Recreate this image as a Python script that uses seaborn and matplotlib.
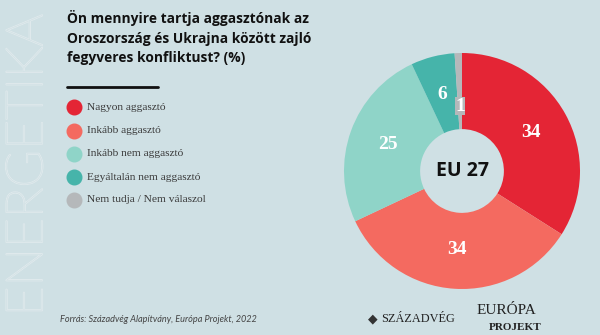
import matplotlib
matplotlib.use("Agg")
import matplotlib.pyplot as plt
import matplotlib.patheffects as pe
import seaborn as sns

# Survey answers (%), EU 27
categories = ["Nagyon aggasztó", "Inkább aggasztó", "Inkább nem aggasztó",
              "Egyáltalán nem aggasztó", "Nem tudja / Nem válaszol"]
values = [34, 34, 25, 6, 1]
colors = ["#e42535", "#f46a60", "#8fd4c8", "#46b4aa", "#b5b8ba"]

title = "Ön mennyire tartja aggasztónak az\nOroszország és Ukrajna között zajló\nfegyveres konfliktust? (%)"
center_label = "EU 27"
source = "Forrás: Századvég Alapítvány, Európa Projekt, 2022"

BG = "#cfe0e4"
sns.set_theme(style="white", rc={"figure.facecolor": BG, "axes.facecolor": BG})
plt.rcParams["font.family"] = ["Open Sans", "DejaVu Sans"]

W, H = 600, 335
fig = plt.figure(figsize=(W / 100, H / 100), dpi=100, facecolor=BG)

def fx(px):
    return px / W

def fy(py):
    return 1 - py / H

SERIF = ["Liberation Serif", "DejaVu Serif"]

# Vertical outlined watermark
fig.text(fx(28), fy(165), "ENERGETIKA", rotation=90, ha="center", va="center",
         fontsize=37, family=["Lato", "DejaVu Sans"], weight="light",
         color=BG, path_effects=[pe.withStroke(linewidth=1.2, foreground="#dfe9ec")])

# Title and underline
fig.text(fx(67), fy(10), title, ha="left", va="top", fontsize=9.9,
         weight="bold", color="#111111", linespacing=1.5)
fig.add_artist(plt.Line2D([fx(67), fx(158)], [fy(87), fy(87)],
                          color="#111111", lw=2))

# Legend
leg_y = [107, 131, 154, 177, 200]
for cat, col, y in zip(categories, colors, leg_y):
    fig.add_artist(plt.Line2D([fx(74)], [fy(y)], marker="o", markersize=10.5,
                              color=col, lw=0))
    fig.text(fx(87), fy(y), cat, ha="left", va="center", fontsize=8.2,
             family=SERIF, color="#3a3a3a")

# Donut
cx, cy, r = 462, 171, 118
ax = fig.add_axes([fx(cx - r), fy(cy + r), 2 * r / W, 2 * r / H])
ax.set_facecolor(BG)
wedges, texts, autotexts = ax.pie(
    values, colors=colors, startangle=90, counterclock=False, radius=1,
    wedgeprops=dict(width=0.645, linewidth=0), pctdistance=0.67,
    autopct=lambda p: f"{p:.0f}",
    textprops=dict(color="white", fontsize=14, weight="bold", family=SERIF))
# the smallest slice label sits a bit inwards on its own grey tag
small = autotexts[-1]
x0, y0 = small.get_position()
small.set_position((x0 * 0.82, y0 * 0.82))
small.set_bbox(dict(facecolor=colors[-1], edgecolor="none", pad=0.3))
ax.text(0, 0, center_label, ha="center", va="center", fontsize=14,
        weight="bold", color="#111111")
ax.set_xlim(-1, 1)
ax.set_ylim(-1, 1)
ax.set_aspect("equal")
ax.axis("off")

# Source line
fig.text(fx(60), fy(319), source, ha="left", va="center", fontsize=6.6,
         style="italic", color="#444444", family=["Lato", "DejaVu Sans"])

# Publisher marks
fig.text(fx(373), fy(319), "◆", ha="center", va="center", fontsize=9,
         color="#333333", family="DejaVu Sans")
fig.text(fx(381), fy(319), "SZÁZADVÉG", ha="left", va="center", fontsize=8.8,
         color="#222222", family=SERIF)
fig.text(fx(506), fy(310), "EURÓPA", ha="center", va="center", fontsize=11,
         color="#222222", family=SERIF)
fig.text(fx(515), fy(327), "PROJEKT", ha="center", va="center", fontsize=8,
         weight="bold", color="#222222", family=SERIF)

fig.savefig("out.png", dpi=100, facecolor=BG)
